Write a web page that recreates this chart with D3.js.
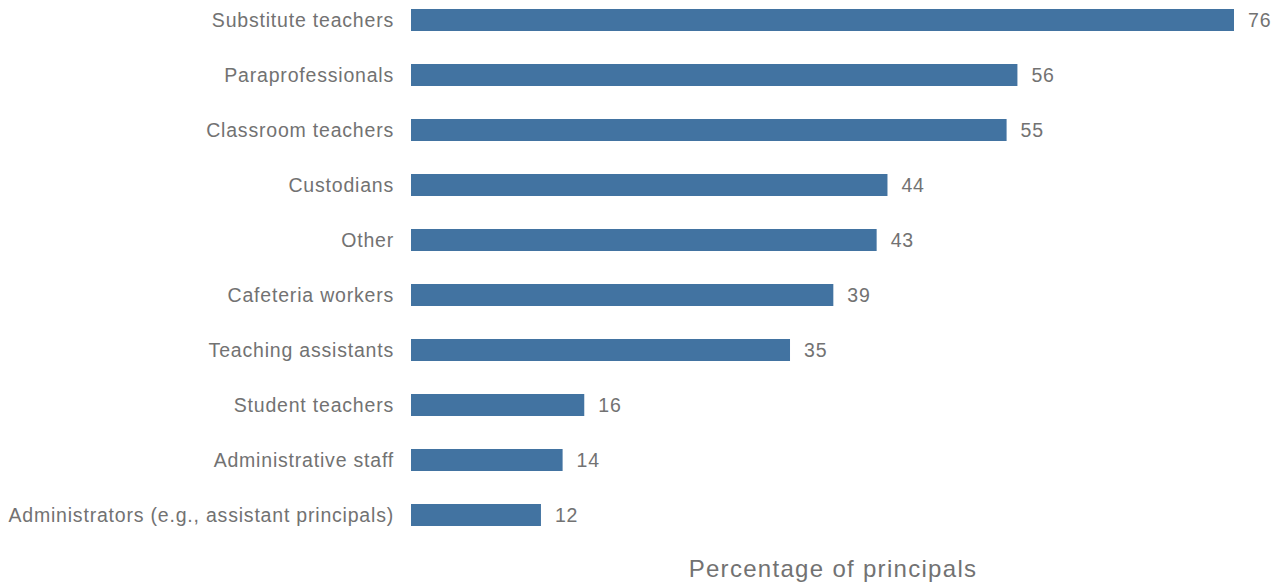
<!DOCTYPE html>
<html>
<head>
<meta charset="utf-8">
<script src="https://cdn.jsdelivr.net/npm/d3@7"></script>
<style>
  body { margin: 0; background: #fff; }
  text { font-family: "Liberation Sans", Arial, sans-serif; fill: #727272; }
</style>
</head>
<body>
<script>
// data
const categories = [
  "Substitute teachers",
  "Paraprofessionals",
  "Classroom teachers",
  "Custodians",
  "Other",
  "Cafeteria workers",
  "Teaching assistants",
  "Student teachers",
  "Administrative staff",
  "Administrators (e.g., assistant principals)"
];
const values = [76, 56, 55, 44, 43, 39, 35, 16, 14, 12];
const axisTitle = "Percentage of principals";

const width = 1273, height = 585;
const margin = { left: 411 };

const svg = d3.select("body").append("svg")
  .attr("width", width)
  .attr("height", height);

// x: 76 -> 1234
const x = d3.scaleLinear()
  .domain([0, 76])
  .range([margin.left, 1234]);

// bands: centres from ~20 to ~514
const y = d3.scaleBand()
  .domain(categories)
  .range([-7.5, 542.5])
  .paddingInner(0.6)
  .paddingOuter(0.3);

const rows = categories.map((c, i) => ({ cat: c, val: values[i] }));

// bars
svg.append("g").selectAll("rect")
  .data(rows)
  .enter().append("rect")
  .attr("x", x(0))
  .attr("y", d => y(d.cat) + y.bandwidth() / 2 - 11)
  .attr("width", d => x(d.val) - x(0))
  .attr("height", 22)
  .attr("fill", "#4273a1");

// category labels
svg.append("g").selectAll("text")
  .data(rows)
  .enter().append("text")
  .attr("x", 394)
  .attr("y", d => y(d.cat) + y.bandwidth() / 2)
  .attr("dy", "0.35em")
  .attr("text-anchor", "end")
  .style("font-size", "19.5px")
  .style("letter-spacing", "0.8px")
  .text(d => d.cat);

// value labels
svg.append("g").selectAll("text")
  .data(rows)
  .enter().append("text")
  .attr("x", d => x(d.val) + 14)
  .attr("y", d => y(d.cat) + y.bandwidth() / 2)
  .attr("dy", "0.35em")
  .style("font-size", "19.5px")
  .style("letter-spacing", "0.8px")
  .text(d => d.val);

// axis title
svg.append("text")
  .attr("x", 833)
  .attr("y", 577)
  .attr("text-anchor", "middle")
  .style("font-size", "24px")
  .style("letter-spacing", "1.3px")
  .text(axisTitle);
</script>
</body>
</html>
